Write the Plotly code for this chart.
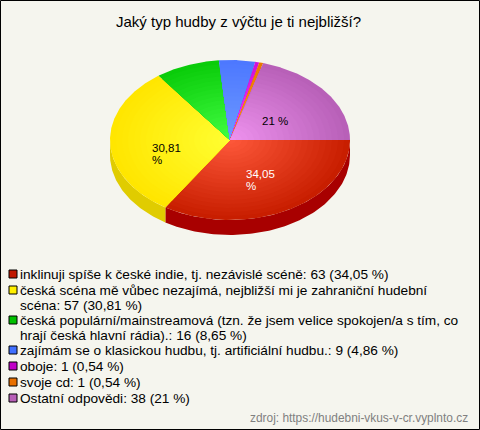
#Pie chart of music taste survey, drawn as a tilted 3D pie
import numpy as np
import plotly.graph_objects as go

title = "Jaký typ hudby z výčtu je ti nejbližší?"
source = "zdroj: https://hudebni-vkus-v-cr.vyplnto.cz"
#answer counts
counts = [63, 57, 16, 9, 1, 1, 38]
#legend text, wrapped like the original
labels = [
    ["inklinuji spíše k české indie, tj. nezávislé scéně: 63 (34,05 %)"],
    ["česká scéna mě vůbec nezajímá, nejbližší mi je zahraniční hudební", "scéna: 57 (30,81 %)"],
    ["česká populární/mainstreamová (tzn. že jsem velice spokojen/a s tím, co", "hrají česká hlavní rádia).: 16 (8,65 %)"],
    ["zajímám se o klasickou hudbu, tj. artificiální hudbu.: 9 (4,86 %)"],
    ["oboje: 1 (0,54 %)"],
    ["svoje cd: 1 (0,54 %)"],
    ["Ostatní odpovědi: 38 (21 %)"],
]
edge_colors = ["#c81e00", "#ffe600", "#0acc0a", "#4d78ff", "#d010d8", "#e87800", "#b860b8"]
center_colors = ["#ff5a3c", "#ffff33", "#44ff44", "#6e9bff", "#ff40ff", "#ff9a20", "#f094f0"]
swatch_colors = ["#c01800", "#fff000", "#00c000", "#4070ff", "#c000c8", "#e87000", "#b860b8"]
wall_colors = {0: "#a80000", 1: "#e0cc00"}

#pie geometry in page pixels
cx, cy, rx, ry, depth = 230, 140, 120, 80, 15
font = "Liberation Sans, Arial, sans-serif"


def hex_rgb(h):
    return np.array([int(h[i:i + 2], 16) for i in (1, 3, 5)], dtype=float)


def sector(t0, t1, scale):
    t = np.radians(np.linspace(t0, t1, max(int(t1 - t0) * 2, 6)))
    x = cx + rx * scale * np.cos(t)
    y = cy + ry * scale * np.sin(t)
    return np.r_[cx, x, cx], np.r_[cy, y, cy]


def left_text(x, y, text, size, color):
    fig.add_annotation(x=x, y=y, text=text, showarrow=False, xanchor="left", yanchor="middle",
                       font=dict(family=font, size=size, color=color))


fig = go.Figure()
angles = np.r_[0, np.cumsum(counts)] / sum(counts) * 360

#side wall, only the front half is visible
for i, color in wall_colors.items():
    t0, t1 = angles[i], min(angles[i + 1], 180)
    t = np.radians(np.linspace(t0, t1, 120))
    x = cx + rx * np.cos(t)
    y = cy + ry * np.sin(t)
    fig.add_trace(go.Scatter(x=np.r_[x, x[::-1]], y=np.r_[y + depth, y[::-1]], mode="lines",
                             fill="toself", fillcolor=color, line=dict(width=0)))

#top face, radial shading made from shrinking sectors
steps = np.linspace(1, 0.05, 20)
for i in range(len(counts)):
    c_edge, c_mid = hex_rgb(edge_colors[i]), hex_rgb(center_colors[i])
    for s in steps:
        r, g, b = c_mid + (c_edge - c_mid) * s
        x, y = sector(angles[i], angles[i + 1], s)
        fig.add_trace(go.Scatter(x=x, y=y, mode="lines", fill="toself",
                                 fillcolor=f"rgb({r:.0f},{g:.0f},{b:.0f})", line=dict(width=0)))

#legend squares and text, lines set by hand since the original is tighter than plotly's <br>
legend_y = []
y_pos = 274
for lines in labels:
    legend_y.append(y_pos)
    for n, line in enumerate(lines):
        left_text(17.5, y_pos + 0.5 + n * 14.5, line, 13.65, "#000000")
    y_pos += 16 + 14 * (len(lines) - 1)
fig.add_trace(go.Scatter(x=[13] * len(labels), y=legend_y, mode="markers",
                         marker=dict(symbol="square", size=8, color=swatch_colors,
                                     line=dict(color="#000000", width=1))))

#labels on the slices
left_text(244, 174, "34,05", 11.5, "#ffffff")
left_text(244, 186, "%", 11.5, "#ffffff")
left_text(150, 148, "30,81", 11.5, "#000000")
left_text(150, 160, "%", 11.5, "#000000")
left_text(260, 121, "21 %", 11.5, "#000000")

fig.add_annotation(x=238, y=21, text=title, showarrow=False, font=dict(family=font, size=15, color="#000000"))
fig.add_annotation(x=470, y=418, text=source, showarrow=False, xanchor="right",
                   font=dict(family=font, size=11.9, color="#808080"))

fig.add_shape(type="rect", x0=0.5, y0=0.5, x1=479.5, y1=429.5, line=dict(color="#000000", width=1))

fig.update_layout(width=480, height=430, margin=dict(l=0, r=0, t=0, b=0), showlegend=False,
                  paper_bgcolor="#f5f5ee", plot_bgcolor="#f5f5ee", hovermode=False,
                  xaxis=dict(range=[0, 480], visible=False, fixedrange=True),
                  yaxis=dict(range=[430, 0], visible=False, fixedrange=True))
#page margin would push the chart off the window
fig.write_html("out.html", config=dict(displayModeBar=False),
               post_script="document.body.style.margin='0';")
